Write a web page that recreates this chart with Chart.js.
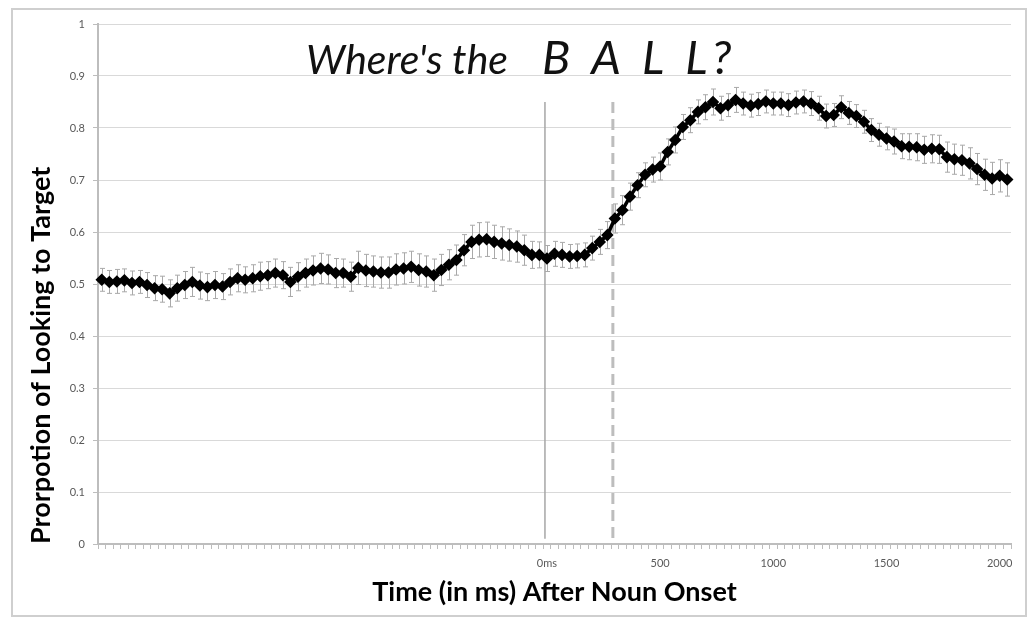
<!DOCTYPE html>
<html>
<head>
<meta charset="utf-8">
<script src="https://cdn.jsdelivr.net/npm/chart.js@4.4.0/dist/chart.umd.min.js"></script>
<style>
  html, body { margin: 0; padding: 0; background: #fff; }
  #wrap { width: 1031px; height: 625px; position: relative; }
</style>
</head>
<body>
<div id="wrap"><canvas id="lookChart"></canvas></div>
<script>
  // sample times (ms, relative to noun onset), one per eye-tracker frame
  const times = [
    -1967, -1933, -1900, -1867, -1833, -1800, -1767, -1733, -1700, -1667,
    -1633, -1600, -1567, -1533, -1500, -1467, -1433, -1400, -1367, -1333,
    -1300, -1267, -1233, -1200, -1167, -1133, -1100, -1067, -1033, -1000,
    -967, -933, -900, -867, -833, -800, -767, -733, -700, -667,
    -633, -600, -567, -533, -500, -467, -433, -400, -367, -333,
    -300, -267, -233, -200, -167, -133, -100, -67, -33, 0,
    33, 67, 100, 133, 167, 200, 233, 267, 300, 333,
    367, 400, 433, 467, 500, 533, 567, 600, 633, 667,
    700, 733, 767, 800, 833, 867, 900, 933, 967, 1000,
    1033, 1067, 1100, 1133, 1167, 1200, 1233, 1267, 1300, 1333,
    1367, 1400, 1433, 1467, 1500, 1533, 1567, 1600, 1633, 1667,
    1700, 1733, 1767, 1800, 1833, 1867, 1900, 1933, 1967, 2000,
    2033,
  ];

  const looking = [
    0.508, 0.504, 0.505, 0.507, 0.502, 0.504, 0.498, 0.492, 0.490, 0.482,
    0.492, 0.498, 0.504, 0.497, 0.494, 0.498, 0.495, 0.504, 0.511, 0.508,
    0.511, 0.515, 0.517, 0.521, 0.517, 0.504, 0.514, 0.521, 0.526, 0.530,
    0.528, 0.521, 0.521, 0.514, 0.531, 0.526, 0.524, 0.522, 0.522, 0.528,
    0.530, 0.533, 0.527, 0.524, 0.517, 0.527, 0.537, 0.546, 0.565, 0.581,
    0.585, 0.586, 0.581, 0.578, 0.575, 0.572, 0.565, 0.556, 0.556, 0.549,
    0.558, 0.556, 0.553, 0.554, 0.556, 0.569, 0.581, 0.594, 0.626, 0.642,
    0.668, 0.690, 0.710, 0.720, 0.726, 0.754, 0.777, 0.802, 0.815, 0.831,
    0.840, 0.850, 0.838, 0.844, 0.854, 0.847, 0.843, 0.846, 0.851, 0.847,
    0.847, 0.844, 0.849, 0.851, 0.847, 0.838, 0.823, 0.825, 0.840, 0.829,
    0.823, 0.812, 0.796, 0.787, 0.780, 0.774, 0.765, 0.764, 0.763, 0.758,
    0.760, 0.759, 0.744, 0.740, 0.738, 0.732, 0.721, 0.710, 0.703, 0.708,
    0.701,
  ];

  // standard error, +/- around each point
  const errors = [
    0.022, 0.022, 0.023, 0.022, 0.023, 0.022, 0.024, 0.024, 0.025, 0.026,
    0.025, 0.026, 0.028, 0.026, 0.026, 0.026, 0.025, 0.025, 0.026, 0.025,
    0.026, 0.027, 0.026, 0.027, 0.026, 0.028, 0.027, 0.027, 0.028, 0.029,
    0.028, 0.028, 0.027, 0.028, 0.032, 0.031, 0.030, 0.030, 0.030, 0.030,
    0.030, 0.030, 0.031, 0.030, 0.031, 0.030, 0.029, 0.029, 0.030, 0.032,
    0.033, 0.033, 0.032, 0.032, 0.031, 0.030, 0.029, 0.026, 0.025, 0.025,
    0.024, 0.024, 0.023, 0.023, 0.023, 0.023, 0.024, 0.026, 0.028, 0.028,
    0.026, 0.024, 0.023, 0.024, 0.026, 0.025, 0.025, 0.024, 0.024, 0.023,
    0.024, 0.025, 0.023, 0.022, 0.024, 0.022, 0.022, 0.022, 0.022, 0.022,
    0.022, 0.022, 0.022, 0.022, 0.023, 0.023, 0.023, 0.022, 0.022, 0.022,
    0.022, 0.022, 0.022, 0.022, 0.022, 0.024, 0.024, 0.025, 0.026, 0.026,
    0.027, 0.027, 0.029, 0.029, 0.029, 0.030, 0.030, 0.030, 0.031, 0.031,
    0.032,
  ];

  const tickText = { 0: "0ms", 500: "500", 1000: "1000", 1500: "1500", 2000: "2000" };
  const nounOnset = 0;
  const saccadeLine = 300;
  const markerTop = 0.85;

  const frame = {
    id: "frame",
    beforeDraw(chart) {
      const ctx = chart.ctx;
      ctx.save();
      ctx.strokeStyle = "#cfcfcf";
      ctx.lineWidth = 2;
      ctx.strokeRect(12, 9, 1014, 607);
      ctx.restore();
    },
  };

  const onsetLines = {
    id: "onsetLines",
    beforeDatasetsDraw(chart) {
      const { ctx, scales: { x, y } } = chart;
      const top = y.getPixelForValue(markerTop);
      const bottom = y.getPixelForValue(0.01);

      ctx.save();
      let px = x.getPixelForValue(times.indexOf(nounOnset)) - 2;
      ctx.strokeStyle = "#a6a6a6";
      ctx.lineWidth = 1.5;
      ctx.beginPath();
      ctx.moveTo(px, top);
      ctx.lineTo(px, bottom);
      ctx.stroke();

      px = x.getPixelForValue(times.indexOf(saccadeLine)) - 2;
      ctx.strokeStyle = "#bdbdbd";
      ctx.lineWidth = 3;
      ctx.setLineDash([11, 6]);
      ctx.beginPath();
      ctx.moveTo(px, top);
      ctx.lineTo(px, bottom + 4);
      ctx.stroke();
      ctx.restore();
    },
  };

  const errorBars = {
    id: "errorBars",
    beforeDatasetsDraw(chart) {
      const { ctx, scales: { x, y } } = chart;
      ctx.save();
      ctx.strokeStyle = "#a9a9a9";
      ctx.lineWidth = 1;
      looking.forEach((v, i) => {
        const px = Math.round(x.getPixelForValue(i)) + 0.5;
        const hi = y.getPixelForValue(v + errors[i]);
        const lo = y.getPixelForValue(v - errors[i]);
        ctx.beginPath();
        ctx.moveTo(px, hi);
        ctx.lineTo(px, lo);
        ctx.moveTo(px - 2.5, hi);
        ctx.lineTo(px + 2.5, hi);
        ctx.moveTo(px - 2.5, lo);
        ctx.lineTo(px + 2.5, lo);
        ctx.stroke();
      });
      ctx.restore();
    },
  };

  const ballTitle = {
    id: "ballTitle",
    afterDraw(chart) {
      const ctx = chart.ctx;
      ctx.save();
      ctx.fillStyle = "#111";
      ctx.textBaseline = "alphabetic";
      ctx.textAlign = "left";
      ctx.font = "italic 41px Lato";
      ctx.fillText("Where's the", 306, 74);
      ctx.font = "italic 47px Lato";
      ctx.letterSpacing = "5px";
      ctx.fillText("B A L L?", 542, 74);
      ctx.restore();
    },
  };

  const lookChart = new Chart(document.getElementById("lookChart"), {
    type: "line",
    data: {
      labels: times.map(String),
      datasets: [
        {
          label: "Looking to target",
          data: looking,
          borderColor: "#000",
          backgroundColor: "#000",
          borderWidth: 3.5,
          pointStyle: "rectRot",
          pointRadius: 3.8,
          pointHoverRadius: 3.8,
          tension: 0,
        },
      ],
    },
    options: {
      responsive: true,
      maintainAspectRatio: false,
      animation: false,
      layout: {
        padding: { left: 12, right: 20, top: 24, bottom: 12 },
      },
      plugins: {
        legend: { display: false },
        tooltip: { enabled: false },
      },
      scales: {
        x: {
          type: "category",
          offset: true,
          grid: {
            drawOnChartArea: false,
            offset: true,
            tickLength: 5,
            color: "#bdbdbd",
          },
          border: { color: "#bdbdbd", width: 2 },
          ticks: {
            autoSkip: false,
            maxRotation: 0,
            minRotation: 0,
            padding: 8,
            color: "#595959",
            font: { family: "Lato", size: 11 },
            callback: (v, i) => tickText[times[i]] ?? "",
          },
          title: {
            display: true,
            text: "Time (in ms) After Noun Onset",
            color: "#000",
            font: { family: "Lato", size: 27, weight: "bold" },
            padding: { top: 0, bottom: 5 },
          },
          afterFit: (scale) => {
            scale.height = 69;
          },
        },
        y: {
          min: 0,
          max: 1,
          ticks: {
            stepSize: 0.1,
            padding: 8,
            color: "#595959",
            font: { family: "Lato", size: 11 },
            callback: (v) => String(Math.round(v * 10) / 10),
          },
          grid: {
            color: "#d9d9d9",
            tickColor: "#bdbdbd",
            tickLength: 5,
          },
          border: { color: "#bdbdbd", width: 2 },
          title: {
            display: true,
            text: "Prorpotion of Looking to Target",
            align: "start",
            color: "#000",
            font: { family: "Lato", size: 27, weight: "bold" },
            padding: { top: 13, bottom: 0 },
          },
          afterFit: (scale) => {
            scale.width = 86;
          },
        },
      },
    },
    plugins: [frame, onsetLines, errorBars, ballTitle],
  });
</script>
</body>
</html>
